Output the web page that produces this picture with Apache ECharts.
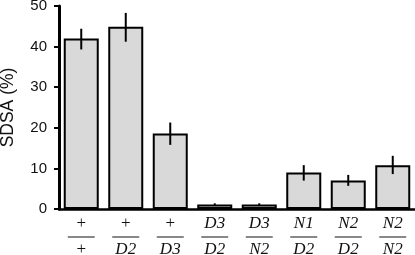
<!DOCTYPE html>
<html>
<head>
<meta charset="utf-8">
<script src="https://cdn.jsdelivr.net/npm/echarts@6/dist/echarts.min.js"></script>
<style>
  html, body { margin: 0; padding: 0; background: #fff; }
  #chart { width: 415px; height: 255px; }
</style>
</head>
<body>
<div id="chart"></div>
<script>
// genotype fractions: top / bottom
const numerators = ["+", "+", "+", "D3", "D3", "N1", "N2", "N2"];
const denominators = ["+", "D2", "D3", "D2", "N2", "D2", "D2", "N2"];
const categories = numerators.map((n, i) => `${n}/${denominators[i]}`);

const sdsa = [42.0, 44.9, 18.6, 1.1, 1.1, 9.0, 7.0, 10.8];
const errLow = [39.3, 41.2, 15.8, 0.8, 0.8, 7.0, 5.7, 8.6];
const errHigh = [44.4, 48.3, 21.3, 1.4, 1.4, 10.8, 8.4, 13.1];

const yTicks = [0, 10, 20, 30, 40, 50];

const chart = echarts.init(document.querySelector("#chart"));

function fracLabel(value, index) {
  const n = numerators[index];
  const d = denominators[index];
  const nStyle = n === "+" ? "p" : "i";
  const dStyle = d === "+" ? "p" : "i";
  return `{${nStyle}|${n}}\n{l| }\n{${dStyle}|${d}}`;
}

chart.setOption({
  animation: false,
  grid: { left: 59, right: 0, top: 6, bottom: 46, containLabel: false, outerBoundsMode: "none" },
  xAxis: {
    type: "category",
    data: categories,
    axisLine: { lineStyle: { color: "#000", width: 2.5 } },
    axisTick: { show: false },
    axisLabel: {
      margin: 8,
      formatter: fracLabel,
      rich: {
        p: { fontFamily: "Liberation Serif", fontSize: 17, color: "#111", lineHeight: 14 },
        i: { fontFamily: "Liberation Serif", fontStyle: "italic", fontSize: 17, color: "#111", lineHeight: 14 },
        l: { width: 27, height: 1, backgroundColor: "#111", lineHeight: 12, fontSize: 1 },
      },
    },
  },
  yAxis: {
    type: "value",
    min: yTicks[0],
    max: yTicks[yTicks.length - 1],
    interval: 10,
    name: "SDSA (%)",
    nameLocation: "middle",
    nameGap: 42,
    nameTextStyle: { fontFamily: "Liberation Sans", fontSize: 17.5, color: "#111" },
    splitLine: { show: false },
    axisLine: { show: true, lineStyle: { color: "#000", width: 3 } },
    axisTick: { show: true, length: 5, lineStyle: { color: "#000", width: 2 } },
    axisLabel: { margin: 12, fontFamily: "Liberation Sans", fontSize: 15, color: "#111" },
  },
  series: [
    {
      type: "bar",
      data: sdsa,
      barWidth: 35,
      itemStyle: { color: "#d9d9d9", borderColor: "#000", borderWidth: 2 },
    },
    {
      type: "custom",
      data: categories.map((c, i) => [i, errLow[i], errHigh[i]]),
      renderItem: (params, api) => {
        const lo = api.coord([api.value(0), api.value(1)]);
        const hi = api.coord([api.value(0), api.value(2)]);
        return {
          type: "line",
          shape: { x1: lo[0], y1: lo[1], x2: hi[0], y2: hi[1] },
          style: { stroke: "#000", lineWidth: 2 },
        };
      },
      z: 10,
    },
  ],
});
</script>
</body>
</html>
